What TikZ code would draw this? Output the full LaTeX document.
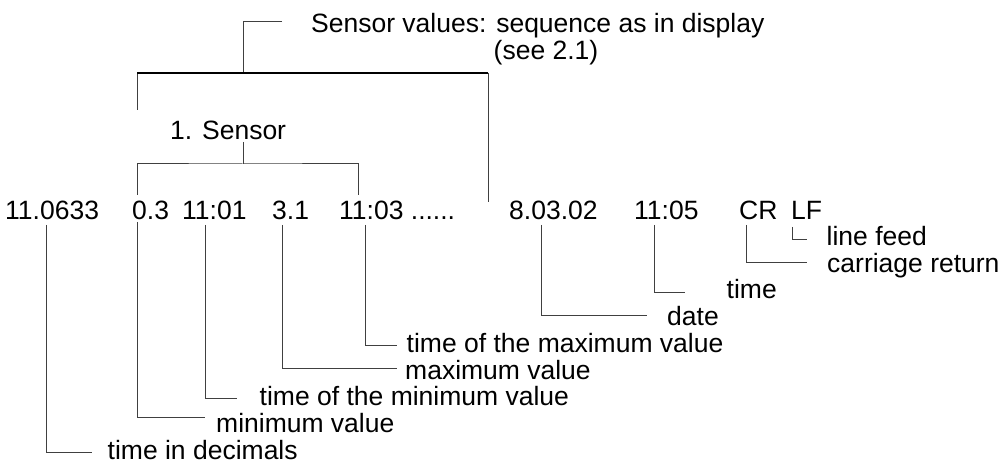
\documentclass[tikz,border=0pt]{standalone}
\usepackage{fontspec}
\setmainfont{Liberation Sans}
\usetikzlibrary{calc}
\begin{document}
\begin{tikzpicture}[x=1pt,y=-1pt,
  txt/.style={anchor=base west,inner sep=0pt,font=\fontsize{26.5}{30}\selectfont},
  lead/.style={line width=1pt,draw=black!75},
  bar/.style={line width=2.2pt,draw=black}]
\useasboundingbox (0,0) rectangle (1002,462);
% top texts
\node[txt] (top1) at (311,33) {Sensor values: sequence as in display};
\node[txt] (top2) at (493.5,59.5) {(see 2.1)};
\node[txt] (s1) at (170,139.5) {1. Sensor};
% number row
\node[txt] (n1) at (5,219.5) {11.0633};
\node[txt] (n2) at (132,219.5) {0.3};
\node[txt] (n3) at (182,219.5) {11:01};
\node[txt] (n4) at (272,219.5) {3.1};
\node[txt] (n5) at (339,219.5) {11:03 ......};
\node[txt] (n6) at (509,219.5) {8.03.02};
\node[txt] (n7) at (634,219.5) {11:05};
\node[txt] (n8) at (739,219.5) {CR};
\node[txt] (n9) at (791,219.5) {LF};
% labels
\node[txt] (l1) at (107.5,459) {time in decimals};
\node[txt] (l2) at (216,432.7) {minimum value};
\node[txt] (l3) at (259.5,406) {time of the minimum value};
\node[txt] (l4) at (405,379.5) {maximum value};
\node[txt] (l5) at (406.5,353) {time of the maximum value};
\node[txt] (l6) at (667,326) {date};
\node[txt] (l7) at (726.5,299) {time};
\node[txt] (l8) at (827,273) {carriage return};
\node[txt] (l9) at (826.5,245.7) {line feed};
% big bracket
\coordinate (barL) at (137,73);
\coordinate (barM) at (243,73);
\coordinate (barR) at (488,73);
\coordinate (barLend) at (137,110);
\coordinate (barRend) at (488,202);
\draw[lead] ($(top1.base west)+(-29,-11.3)$) -| (barM);
\draw[lead] (barL) -- (barLend);
\draw[lead] (barR) -- (barRend);
\draw[bar] (barL) -- (barR);
% sensor bracket
\coordinate (sbM) at (243,164);
\draw[lead] ($(s1.base west)+(73,2.5)$) -- (sbM);
\draw[lead] ($(n2.base west)+(5,-24.5)$) |- (sbM) -| ($(n5.base west)+(19,-24.5)$);
% leaders
\draw[lead] ($(n1.base west)+(41,5.5)$) |- ($(l1.base west)+(-15.5,-7)$);
\draw[lead] ($(n2.base west)+(5,2.5)$) |- ($(l2.base west)+(-11,-14.7)$);
\draw[lead] ($(n3.base west)+(23,5.5)$) |- ($(l3.base west)+(-22.5,-7)$);
\draw[lead] ($(n4.base west)+(10,5.5)$) |- ($(l4.base west)+(-8,-10.5)$);
\draw[lead] ($(n5.base west)+(26,5.5)$) |- ($(l5.base west)+(-9.5,-7)$);
\draw[lead] ($(n6.base west)+(32,5.5)$) |- ($(l6.base west)+(-20,-10)$);
\draw[lead] ($(n7.base west)+(20,5.5)$) |- ($(l7.base west)+(-41.5,-6)$);
\draw[lead] ($(n8.base west)+(7,5.5)$) |- ($(l8.base west)+(-20,-10)$);
\draw[lead] ($(n9.base west)+(1,7.5)$) |- ($(l9.base west)+(-19.5,-5.7)$);
\end{tikzpicture}
\end{document}
